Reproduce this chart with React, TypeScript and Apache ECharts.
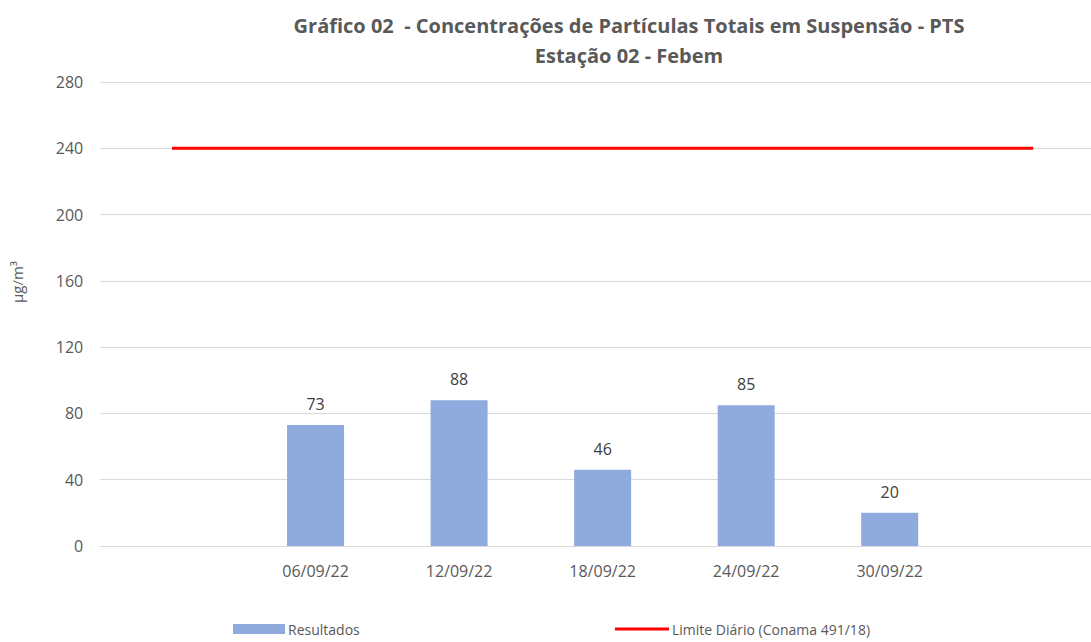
import React, { useEffect, useRef } from "react";
import * as echarts from "echarts";

const categories = ["", "06/09/22", "12/09/22", "18/09/22", "24/09/22", "30/09/22", ""];
const resultados = [null, 73, 88, 46, 85, 20, null];
const limite = [240, 240, 240, 240, 240, 240, 240];
const yTicks = { min: 0, max: 280, interval: 40 };
const titleText = "Gráfico 02  - Concentrações de Partículas Totais em Suspensão - PTS\nEstação 02 - Febem";
const yName = "µg/m³";
const seriesNames = ["Resultados", "Limite Diário (Conama 491/18)"];

const FONT = "Open Sans";

export default function App() {
  const ref = useRef<HTMLDivElement>(null);
  useEffect(() => {
    if (!ref.current) return;
    const chart = echarts.init(ref.current, null, { renderer: "svg" });
    chart.setOption({
      animation: false,
      backgroundColor: "#ffffff",
      textStyle: { fontFamily: FONT },
      title: {
        text: titleText,
        left: 624,
        textAlign: "center",
        top: 5,
        textStyle: {
          fontFamily: FONT,
          fontSize: 20,
          fontWeight: "bold",
          color: "#595959",
          lineHeight: 30,
        },
      },
      legend: [
        {
          data: [seriesNames[0]],
          left: 228,
          top: 617,
          itemWidth: 52,
          itemHeight: 10,
          icon: "rect",
          textStyle: { fontFamily: FONT, fontSize: 14, color: "#595959", padding: [0, 0, 0, -2] },
        },
        {
          data: [seriesNames[1]],
          left: 610,
          top: 617,
          itemWidth: 54,
          itemHeight: 3,
          icon: "rect",
          textStyle: { fontFamily: FONT, fontSize: 14, color: "#595959", padding: [0, 0, 0, -2] },
        },
      ],
      graphic: [
        {
          type: "text",
          x: 17,
          y: 282,
          rotation: Math.PI / 2,
          style: {
            text: yName,
            fontFamily: FONT,
            fontSize: 15,
            fill: "#595959",
            align: "center",
            verticalAlign: "middle",
          },
        },
      ],
      grid: { left: 100.25, right: 0, top: 82, bottom: 96, containLabel: false },
      xAxis: {
        type: "category",
        data: categories,
        boundaryGap: true,
        axisLine: { show: true, lineStyle: { color: "#d9d9d9", width: 1 } },
        axisTick: { show: false },
        axisLabel: { fontFamily: FONT, fontSize: 16, color: "#595959", margin: 17 },
      },
      yAxis: {
        type: "value",
        min: yTicks.min,
        max: yTicks.max,
        interval: yTicks.interval,
        axisLine: { show: false },
        axisTick: { show: false },
        axisLabel: { fontFamily: FONT, fontSize: 16, color: "#595959", margin: 17 },
        splitLine: { lineStyle: { color: "#d9d9d9", width: 1 } },
      },
      series: [
        {
          name: seriesNames[0],
          type: "bar",
          data: resultados,
          barWidth: 57,
          itemStyle: { color: "#8faadc" },
          label: {
            show: true,
            position: "top",
            distance: 13,
            fontFamily: FONT,
            fontSize: 16,
            color: "#404040",
          },
        },
        {
          name: seriesNames[1],
          type: "line",
          data: limite,
          symbol: "none",
          lineStyle: { color: "#ff0000", width: 3 },
          itemStyle: { color: "#ff0000" },
        },
      ],
    });
    return () => chart.dispose();
  }, []);
  return (
    <div style={{ position: "fixed", left: 0, top: 0, width: 1091, height: 642, overflow: "hidden" }}>
      <div ref={ref} style={{ position: "absolute", left: 0, top: 0, width: 1104.75, height: 642 }} />
    </div>
  );
}
